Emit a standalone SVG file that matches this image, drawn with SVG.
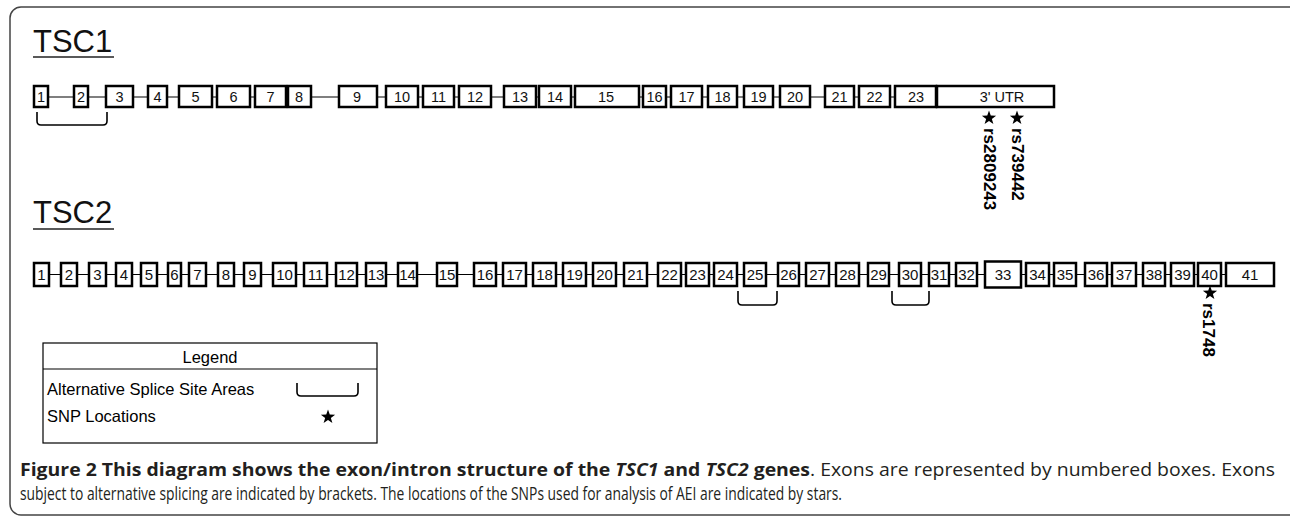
<svg xmlns="http://www.w3.org/2000/svg" xmlns:xlink="http://www.w3.org/1999/xlink" width="1290" height="520" viewBox="0 0 1290 520">
  <style>
    .ex rect { fill: #fff; stroke: #000; stroke-width: 2.5; }
    .ex text { font-family: "Liberation Sans", Arial, sans-serif; fill: #111; text-anchor: middle; }
    .t1 text { font-size: 14.5px; }
    .t2 text { font-size: 15px; }
    .intron { stroke: #000; stroke-width: 1.2; fill: none; }
    .bracket { stroke: #000; stroke-width: 1.6; fill: none; }
    .gene { font-family: "Liberation Sans", Arial, sans-serif; font-size: 31px; fill: #111; }
    .uline { stroke: #222; stroke-width: 1.6; }
    .snp { font-family: "Liberation Sans", Arial, sans-serif; font-size: 17px; font-weight: bold; fill: #000; }
    .leg { font-family: "Liberation Sans", Arial, sans-serif; font-size: 16.5px; fill: #000; }
    .cap { font-family: "Open Sans", "Liberation Sans", sans-serif; font-size: 17.5px; fill: #231f20; }
  </style>
  <defs>
    <path id="star" d="M0,-7.5 L1.76,-2.42 L7.13,-2.32 L2.85,0.92 L4.41,6.07 L0,3 L-4.41,6.07 L-2.85,0.92 L-7.13,-2.32 L-1.76,-2.42 Z" fill="#000"/>
  </defs>

  <!-- outer frame -->
  <rect x="10" y="7" width="1300" height="508" rx="11" fill="#fff" stroke="#444" stroke-width="1.5"/>

  <!-- gene titles -->
  <g id="title-tsc1">
    <text class="gene" x="33" y="52">TSC1</text>
    <line class="uline" x1="33" y1="57" x2="114" y2="57"/>
  </g>
  <g id="title-tsc2">
    <text class="gene" x="33" y="223">TSC2</text>
    <line class="uline" x1="33" y1="229" x2="114" y2="229"/>
  </g>

  <!-- introns and splice brackets -->
  <g id="connectors">
    <line class="intron" x1="40" y1="97" x2="1050" y2="97"/>
    <line class="intron" x1="40" y1="274.5" x2="1270" y2="274.5"/>
    <path class="bracket" d="M37,112 L37,121 Q37,125 41,125 L103,125 Q107,125 107,121 L107,112"/>
    <path class="bracket" d="M738,291 L738,301 Q738,305 742,305 L773,305 Q777,305 777,301 L777,291"/>
    <path class="bracket" d="M892,291 L892,301 Q892,305 896,305 L925,305 Q929,305 929,301 L929,291"/>
  </g>

  <!-- TSC1 exons -->
  <g class="ex t1">
    <g id="tsc1-ex1"><rect x="34" y="86" width="14" height="21"/><text x="41" y="102">1</text></g>
    <g id="tsc1-ex2"><rect x="74" y="86" width="14" height="21"/><text x="81" y="102">2</text></g>
    <g id="tsc1-ex3"><rect x="106" y="86" width="27" height="21"/><text x="119.5" y="102">3</text></g>
    <g id="tsc1-ex4"><rect x="148" y="86" width="19" height="21"/><text x="157.5" y="102">4</text></g>
    <g id="tsc1-ex5"><rect x="179" y="86" width="33" height="21"/><text x="195.5" y="102">5</text></g>
    <g id="tsc1-ex6"><rect x="217" y="86" width="33" height="21"/><text x="233.5" y="102">6</text></g>
    <g id="tsc1-ex7"><rect x="255" y="86" width="31" height="21"/><text x="270.5" y="102">7</text></g>
    <g id="tsc1-ex8"><rect x="288" y="86" width="23" height="21"/><text x="299" y="102">8</text></g>
    <g id="tsc1-ex9"><rect x="339" y="86" width="38" height="21"/><text x="357" y="102">9</text></g>
    <g id="tsc1-ex10"><rect x="386" y="86" width="32" height="21"/><text x="402" y="102">10</text></g>
    <g id="tsc1-ex11"><rect x="423" y="86" width="31" height="21"/><text x="438.5" y="102">11</text></g>
    <g id="tsc1-ex12"><rect x="459" y="86" width="32" height="21"/><text x="475" y="102">12</text></g>
    <g id="tsc1-ex13"><rect x="504" y="86" width="32" height="21"/><text x="520" y="102">13</text></g>
    <g id="tsc1-ex14"><rect x="539" y="86" width="32" height="21"/><text x="555" y="102">14</text></g>
    <g id="tsc1-ex15"><rect x="575" y="86" width="64" height="21"/><text x="606" y="102">15</text></g>
    <g id="tsc1-ex16"><rect x="643" y="86" width="23" height="21"/><text x="654.5" y="102">16</text></g>
    <g id="tsc1-ex17"><rect x="671" y="86" width="31" height="21"/><text x="686.5" y="102">17</text></g>
    <g id="tsc1-ex18"><rect x="708" y="86" width="29" height="21"/><text x="722.5" y="102">18</text></g>
    <g id="tsc1-ex19"><rect x="744" y="86" width="29" height="21"/><text x="758.5" y="102">19</text></g>
    <g id="tsc1-ex20"><rect x="780" y="86" width="30" height="21"/><text x="795" y="102">20</text></g>
    <g id="tsc1-ex21"><rect x="825" y="86" width="29" height="21"/><text x="839.5" y="102">21</text></g>
    <g id="tsc1-ex22"><rect x="859" y="86" width="31" height="21"/><text x="874.5" y="102">22</text></g>
    <g id="tsc1-ex23"><rect x="895" y="86" width="41" height="21"/><text x="916" y="102">23</text></g>
    <g id="tsc1-utr"><rect x="937" y="86" width="117" height="21"/><text x="1002" y="102">3' UTR</text></g>
  </g>

  <!-- TSC2 exons -->
  <g class="ex t2">
    <g id="tsc2-ex1"><rect x="34" y="263" width="15" height="23"/><text x="41.5" y="280">1</text></g>
    <g id="tsc2-ex2"><rect x="61" y="263" width="16" height="23"/><text x="69" y="280">2</text></g>
    <g id="tsc2-ex3"><rect x="89" y="263" width="17" height="23"/><text x="97.5" y="280">3</text></g>
    <g id="tsc2-ex4"><rect x="116" y="263" width="16" height="23"/><text x="124" y="280">4</text></g>
    <g id="tsc2-ex5"><rect x="141" y="263" width="16" height="23"/><text x="149" y="280">5</text></g>
    <g id="tsc2-ex6"><rect x="168" y="263" width="13" height="23"/><text x="174.5" y="280">6</text></g>
    <g id="tsc2-ex7"><rect x="189" y="263" width="17" height="23"/><text x="197.5" y="280">7</text></g>
    <g id="tsc2-ex8"><rect x="218" y="263" width="16" height="23"/><text x="226" y="280">8</text></g>
    <g id="tsc2-ex9"><rect x="244" y="263" width="17" height="23"/><text x="252.5" y="280">9</text></g>
    <g id="tsc2-ex10"><rect x="273" y="263" width="23" height="23"/><text x="284.5" y="280">10</text></g>
    <g id="tsc2-ex11"><rect x="304" y="263" width="23" height="23"/><text x="315.5" y="280">11</text></g>
    <g id="tsc2-ex12"><rect x="336" y="263" width="21" height="23"/><text x="346.5" y="280">12</text></g>
    <g id="tsc2-ex13"><rect x="366" y="263" width="20" height="23"/><text x="376" y="280">13</text></g>
    <g id="tsc2-ex14"><rect x="398" y="263" width="19" height="23"/><text x="407.5" y="280">14</text></g>
    <g id="tsc2-ex15"><rect x="437" y="263" width="20" height="23"/><text x="447" y="280">15</text></g>
    <g id="tsc2-ex16"><rect x="474" y="263" width="22" height="23"/><text x="485" y="280">16</text></g>
    <g id="tsc2-ex17"><rect x="503" y="263" width="23" height="23"/><text x="514.5" y="280">17</text></g>
    <g id="tsc2-ex18"><rect x="533" y="263" width="23" height="23"/><text x="544.5" y="280">18</text></g>
    <g id="tsc2-ex19"><rect x="563" y="263" width="23" height="23"/><text x="574.5" y="280">19</text></g>
    <g id="tsc2-ex20"><rect x="593" y="263" width="23" height="23"/><text x="604.5" y="280">20</text></g>
    <g id="tsc2-ex21"><rect x="624" y="263" width="23" height="23"/><text x="635.5" y="280">21</text></g>
    <g id="tsc2-ex22"><rect x="658" y="263" width="23" height="23"/><text x="669.5" y="280">22</text></g>
    <g id="tsc2-ex23"><rect x="686" y="263" width="23" height="23"/><text x="697.5" y="280">23</text></g>
    <g id="tsc2-ex24"><rect x="714" y="263" width="23" height="23"/><text x="725.5" y="280">24</text></g>
    <g id="tsc2-ex25"><rect x="744" y="263" width="22" height="23"/><text x="755" y="280">25</text></g>
    <g id="tsc2-ex26"><rect x="778" y="263" width="21" height="23"/><text x="788.5" y="280">26</text></g>
    <g id="tsc2-ex27"><rect x="806" y="263" width="23" height="23"/><text x="817.5" y="280">27</text></g>
    <g id="tsc2-ex28"><rect x="836" y="263" width="23" height="23"/><text x="847.5" y="280">28</text></g>
    <g id="tsc2-ex29"><rect x="868" y="263" width="21" height="23"/><text x="878.5" y="280">29</text></g>
    <g id="tsc2-ex30"><rect x="899" y="263" width="22" height="23"/><text x="910" y="280">30</text></g>
    <g id="tsc2-ex31"><rect x="929" y="263" width="20" height="23"/><text x="939" y="280">31</text></g>
    <g id="tsc2-ex32"><rect x="956" y="263" width="21" height="23"/><text x="966.5" y="280">32</text></g>
    <g id="tsc2-ex33"><rect x="985" y="261.5" width="36" height="26"/><text x="1003" y="280">33</text></g>
    <g id="tsc2-ex34"><rect x="1026" y="263" width="23" height="23"/><text x="1037.5" y="280">34</text></g>
    <g id="tsc2-ex35"><rect x="1054" y="263" width="22" height="23"/><text x="1065" y="280">35</text></g>
    <g id="tsc2-ex36"><rect x="1085" y="263" width="22" height="23"/><text x="1096" y="280">36</text></g>
    <g id="tsc2-ex37"><rect x="1112" y="263" width="24" height="23"/><text x="1124" y="280">37</text></g>
    <g id="tsc2-ex38"><rect x="1143" y="263" width="22" height="23"/><text x="1154" y="280">38</text></g>
    <g id="tsc2-ex39"><rect x="1171" y="263" width="23" height="23"/><text x="1182.5" y="280">39</text></g>
    <g id="tsc2-ex40"><rect x="1198" y="263" width="23" height="23"/><text x="1209.5" y="280">40</text></g>
    <g id="tsc2-ex41"><rect x="1226" y="263" width="48" height="23"/><text x="1250" y="280">41</text></g>
  </g>

  <!-- SNP markers -->
  <g id="snp-rs2809243">
    <use xlink:href="#star" href="#star" x="989" y="118"/>
    <text class="snp" transform="translate(984,128) rotate(90)">rs2809243</text>
  </g>
  <g id="snp-rs739442">
    <use xlink:href="#star" href="#star" x="1017" y="118"/>
    <text class="snp" transform="translate(1012,128) rotate(90)">rs739442</text>
  </g>
  <g id="snp-rs1748">
    <use xlink:href="#star" href="#star" x="1210" y="293"/>
    <text class="snp" transform="translate(1203,303) rotate(90)">rs1748</text>
  </g>

  <!-- legend -->
  <g id="legend">
    <rect x="43" y="343" width="334" height="100" fill="#fff" stroke="#000" stroke-width="1.2"/>
    <line x1="43" y1="369" x2="377" y2="369" stroke="#000" stroke-width="1.2"/>
    <text class="leg" x="210" y="363" text-anchor="middle">Legend</text>
    <text class="leg" x="47" y="395">Alternative Splice Site Areas</text>
    <text class="leg" x="47" y="422">SNP Locations</text>
    <path class="bracket" d="M297,383 L297,392 Q297,396 301,396 L354,396 Q358,396 358,392 L358,383"/>
    <use xlink:href="#star" href="#star" x="328" y="417"/>
  </g>

  <!-- figure caption -->
  <g id="caption">
    <text class="cap" x="20" y="476" textLength="1255" lengthAdjust="spacingAndGlyphs"><tspan font-weight="bold">Figure 2 This diagram shows the exon/intron structure of the </tspan><tspan font-weight="bold" font-style="italic">TSC1</tspan><tspan font-weight="bold"> and </tspan><tspan font-weight="bold" font-style="italic">TSC2</tspan><tspan font-weight="bold"> genes</tspan>. Exons are represented by numbered boxes. Exons</text>
    <text class="cap" x="20" y="500" textLength="822" lengthAdjust="spacingAndGlyphs">subject to alternative splicing are indicated by brackets. The locations of the SNPs used for analysis of AEI are indicated by stars.</text>
  </g>
</svg>
